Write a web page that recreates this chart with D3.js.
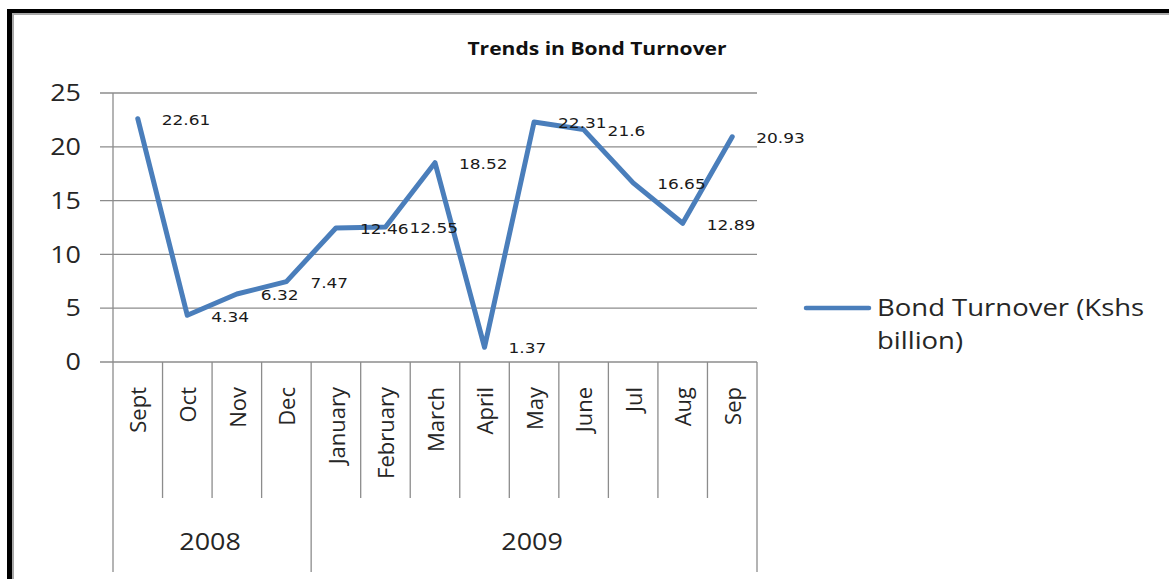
<!DOCTYPE html>
<html>
<head>
<meta charset="utf-8">
<script src="https://cdn.jsdelivr.net/npm/d3@7"></script>
<style>
  body { margin: 0; background: #fff; }
  svg { display: block; }
</style>
</head>
<body>
<div class="graph-container"></div>
<script>
const months = ['Sept', 'Oct', 'Nov', 'Dec', 'January', 'February', 'March', 'April', 'May', 'June', 'Jul', 'Aug', 'Sep'];
const turnover = [22.61, 4.34, 6.32, 7.47, 12.46, 12.55, 18.52, 1.37, 22.31, 21.6, 16.65, 12.89, 20.93];
const years = ['2008', '2009'];
const monthsPerYear = [4, 9];
const yTicks = [0, 5, 10, 15, 20, 25];

const W = 1169, H = 579;
const plotLeft = 113, plotRight = 757, plotTop = 93, plotBottom = 362;
const stretch = 1.17; // source text looks widened horizontally
const gridColor = '#8c8c8c';

const svg = d3.select('div.graph-container')
    .append('svg')
    .attr('width', W)
    .attr('height', H);

svg.append('rect').attr('width', W).attr('height', H).attr('fill', '#fff');

// frame (top + left, cut at right and bottom)
svg.append('rect').attr('x', 7).attr('y', 9).attr('width', W - 7).attr('height', 4).attr('fill', '#000');
svg.append('rect').attr('x', 7).attr('y', 9).attr('width', 5).attr('height', H - 9).attr('fill', '#000');
svg.append('rect').attr('x', 12).attr('y', 13).attr('width', W - 12).attr('height', 2).attr('fill', '#a8a8a8');
svg.append('rect').attr('x', 12).attr('y', 13).attr('width', 2).attr('height', H - 13).attr('fill', '#a8a8a8');

const x = d3.scaleBand().domain(months).range([plotLeft, plotRight]).padding(0);
const y = d3.scaleLinear().domain([0, 25]).range([plotBottom, plotTop]);
const cx = d => x(d) + x.bandwidth() / 2;

// title
svg.append('text')
    .attr('transform', `translate(597, 55) scale(${stretch},1)`)
    .attr('text-anchor', 'middle')
    .attr('font-family', 'Open Sans')
    .attr('font-weight', 'bold')
    .attr('font-size', '18px')
    .attr('fill', '#111')
    .text('Trends in Bond Turnover');

// gridlines + y labels
svg.append('g')
    .selectAll('line')
    .data(yTicks)
    .enter()
    .append('line')
    .attr('x1', plotLeft - 13)
    .attr('x2', plotRight)
    .attr('y1', d => y(d))
    .attr('y2', d => y(d))
    .attr('stroke', gridColor)
    .attr('stroke-width', 1.3);

svg.append('g')
    .selectAll('text')
    .data(yTicks)
    .enter()
    .append('text')
    .attr('transform', d => `translate(81, ${y(d)}) scale(${stretch},1)`)
    .attr('dy', '0.36em')
    .attr('text-anchor', 'end')
    .attr('font-family', 'Open Sans')
    .attr('font-size', '23px')
    .attr('fill', '#262626')
    .text(d => d);

// y axis line
svg.append('line')
    .attr('x1', plotLeft).attr('x2', plotLeft)
    .attr('y1', plotTop).attr('y2', plotBottom)
    .attr('stroke', gridColor).attr('stroke-width', 1.3);

// category separators below the axis
const yearEdges = [0, ...d3.cumsum(monthsPerYear)];
svg.append('g')
    .selectAll('line')
    .data(d3.range(months.length + 1))
    .enter()
    .append('line')
    .attr('x1', i => plotLeft + i * x.bandwidth())
    .attr('x2', i => plotLeft + i * x.bandwidth())
    .attr('y1', plotBottom)
    .attr('y2', i => yearEdges.includes(i) ? 572 : 498)
    .attr('stroke', gridColor)
    .attr('stroke-width', 1.3);

// month labels
svg.append('g')
    .selectAll('text')
    .data(months)
    .enter()
    .append('text')
    .attr('transform', d => `translate(${cx(d) + 1}, 387) rotate(-90)`)
    .attr('dy', '0.35em')
    .attr('text-anchor', 'end')
    .attr('font-family', 'Open Sans')
    .attr('font-size', '22px')
    .attr('fill', '#262626')
    .text(d => d);

// year labels
svg.append('g')
    .selectAll('text')
    .data(years)
    .enter()
    .append('text')
    .attr('transform', (d, i) => {
        const a = plotLeft + yearEdges[i] * x.bandwidth();
        const b = plotLeft + yearEdges[i + 1] * x.bandwidth();
        return `translate(${(a + b) / 2 - 2}, 542) scale(${stretch},1)`;
    })
    .attr('dy', '0.36em')
    .attr('text-anchor', 'middle')
    .attr('font-family', 'Open Sans')
    .attr('font-size', '23px')
    .attr('fill', '#262626')
    .text(d => d);

// the series
const line = d3.line()
    .x((d, i) => cx(months[i]))
    .y(d => y(d));

svg.append('path')
    .datum(turnover)
    .attr('d', line)
    .attr('fill', 'none')
    .attr('stroke', '#4a7ebb')
    .attr('stroke-width', 5)
    .attr('stroke-linejoin', 'round')
    .attr('stroke-linecap', 'round');

// data labels, right of each point
svg.append('g')
    .selectAll('text')
    .data(turnover)
    .enter()
    .append('text')
    .attr('transform', (d, i) => `translate(${cx(months[i]) + 24}, ${y(d) + 1}) scale(${stretch},1)`)
    .attr('dy', '0.36em')
    .attr('font-family', 'DejaVu Sans')
    .attr('font-size', '14.5px')
    .attr('fill', '#1a1a1a')
    .text(d => d);

// legend
svg.append('line')
    .attr('x1', 806).attr('x2', 869)
    .attr('y1', 308).attr('y2', 308)
    .attr('stroke', '#4a7ebb')
    .attr('stroke-width', 4.5)
    .attr('stroke-linecap', 'round');

svg.append('g')
    .selectAll('text')
    .data(['Bond Turnover (Kshs', 'billion)'])
    .enter()
    .append('text')
    .attr('transform', (d, i) => `translate(877, ${308 + i * 33}) scale(${stretch},1)`)
    .attr('dy', '0.36em')
    .attr('font-family', 'Open Sans')
    .attr('font-size', '23.5px')
    .attr('fill', '#262626')
    .text(d => d);
</script>
</body>
</html>
